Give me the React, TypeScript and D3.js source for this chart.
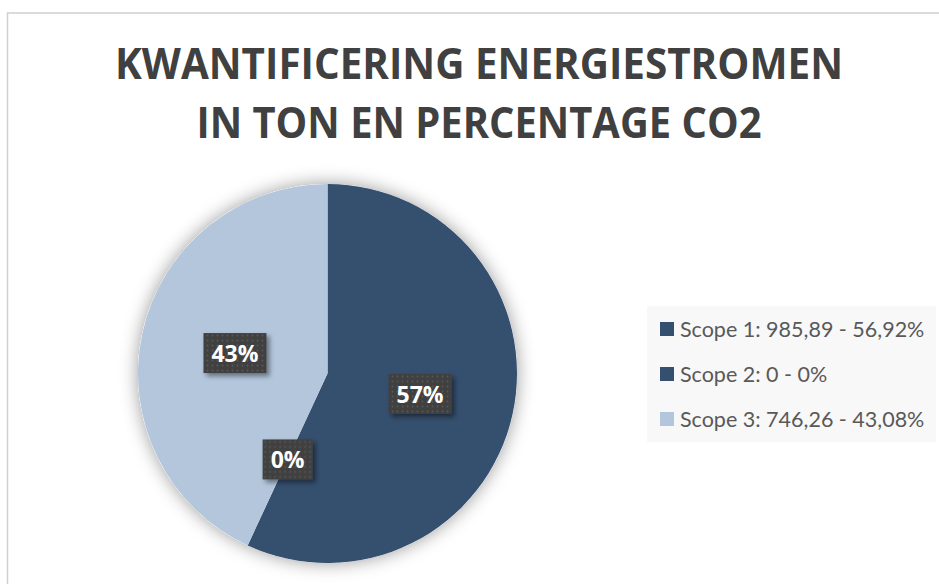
import React, { useEffect, useRef } from "react";
import * as d3 from "d3";

// chart data
const titleLines = ["KWANTIFICERING ENERGIESTROMEN", "IN TON EN PERCENTAGE CO2"];
const scopes = ["Scope 1", "Scope 2", "Scope 3"];
const tons = [985.89, 0, 746.26];
const shares = [56.92, 0, 43.08];
const colors = ["#354f6e", "#354f6e", "#b3c6dc"];

const W = 939;
const H = 584;

export default function App() {
  const ref = useRef<SVGSVGElement | null>(null);

  useEffect(() => {
    const svg = d3.select(ref.current);
    svg.selectAll("*").remove();

    const defs = svg.append("defs");

    // soft glow round the pie
    const pieShadow = defs.append("filter").attr("id", "pieShadow")
      .attr("x", "-30%").attr("y", "-30%").attr("width", "160%").attr("height", "160%");
    pieShadow.append("feDropShadow")
      .attr("dx", 0).attr("dy", 0).attr("stdDeviation", 9)
      .attr("flood-color", "#000").attr("flood-opacity", 0.4);

    const boxShadow = defs.append("filter").attr("id", "boxShadow")
      .attr("x", "-30%").attr("y", "-30%").attr("width", "160%").attr("height", "160%");
    boxShadow.append("feDropShadow")
      .attr("dx", 3).attr("dy", 3).attr("stdDeviation", 2.5)
      .attr("flood-color", "#000").attr("flood-opacity", 0.45);

    // dotted fill of the data labels
    const pat = defs.append("pattern").attr("id", "dots")
      .attr("patternUnits", "userSpaceOnUse").attr("width", 5).attr("height", 5);
    pat.append("rect").attr("width", 5).attr("height", 5).attr("fill", "#404040");
    pat.append("circle").attr("cx", 2.5).attr("cy", 2.5).attr("r", 0.9).attr("fill", "#595959");

    svg.append("rect").attr("width", W).attr("height", H).attr("fill", "#fff");

    // chart border (right and bottom fall outside the crop)
    svg.append("rect")
      .attr("x", 7.5).attr("y", 13).attr("width", 960).attr("height", 600)
      .attr("fill", "#fff").attr("stroke", "#d0d0d0").attr("stroke-width", 1.5);

    // title
    const titleLen = [728, 565];
    svg.append("g").selectAll("text")
      .data(titleLines)
      .enter()
      .append("text")
      .attr("x", 479)
      .attr("y", (d, i) => 79 + i * 59)
      .attr("text-anchor", "middle")
      .attr("font-family", "'Open Sans', Lato, sans-serif")
      .attr("font-weight", "bold")
      .attr("font-size", 43)
      .attr("fill", "#404040")
      .attr("textLength", (d, i) => titleLen[i])
      .attr("lengthAdjust", "spacingAndGlyphs")
      .text(d => d);

    // pie
    const cx = 327.5, cy = 373.5, r = 189.5;
    const pie = d3.pie<number>().sort(null).value(d => d);
    const arcs = pie(tons);
    const arc = d3.arc<d3.PieArcDatum<number>>().innerRadius(0).outerRadius(r);
    const labelArc = d3.arc<d3.PieArcDatum<number>>().innerRadius(r * 0.5).outerRadius(r * 0.5);

    const g = svg.append("g").attr("transform", `translate(${cx},${cy})`);
    g.append("circle").attr("r", r).attr("fill", "#fff").attr("filter", "url(#pieShadow)");
    g.selectAll("path.slice")
      .data(arcs)
      .enter()
      .append("path")
      .attr("class", "slice")
      .attr("d", arc)
      .attr("fill", (d, i) => colors[i]);

    // data labels
    const pct = (v: number) => d3.format(".0f")(v) + "%";
    const labels = g.selectAll("g.lab")
      .data(arcs)
      .enter()
      .append("g")
      .attr("class", "lab")
      .attr("transform", d => {
        const [x, y] = labelArc.centroid(d);
        return `translate(${x},${y})`;
      });
    labels.append("rect")
      .attr("x", (d, i) => -(24 + 13 * pct(shares[i]).length) / 2)
      .attr("y", -20)
      .attr("width", (d, i) => 24 + 13 * pct(shares[i]).length)
      .attr("height", 40)
      .attr("fill", "url(#dots)")
      .attr("filter", "url(#boxShadow)");
    labels.append("text")
      .attr("text-anchor", "middle")
      .attr("y", 9)
      .attr("font-family", "'Open Sans', Lato, sans-serif")
      .attr("font-weight", "bold")
      .attr("font-size", 23)
      .attr("fill", "#fff")
      .text((d, i) => pct(shares[i]));

    // legend
    const fmt = (v: number) => String(v).replace(".", ",");
    svg.append("rect")
      .attr("x", 647).attr("y", 306).attr("width", 289).attr("height", 136)
      .attr("fill", "#f8f8f8");
    const leg = svg.append("g").selectAll("g")
      .data(scopes)
      .enter()
      .append("g")
      .attr("transform", (d, i) => `translate(660,${322 + i * 45})`);
    leg.append("rect")
      .attr("width", 14).attr("height", 14)
      .attr("fill", (d, i) => colors[i]);
    leg.append("text")
      .attr("x", 20)
      .attr("y", 15)
      .attr("font-family", "Lato, 'Open Sans', sans-serif")
      .attr("font-size", 21.5)
      .attr("fill", "#595959")
      .text((d, i) => `${d}: ${fmt(tons[i])} - ${fmt(shares[i])}%`);
  }, []);

  return (
    <svg ref={ref} width={W} height={H}
      style={{ position: "absolute", left: 0, top: 0, display: "block" }} />
  );
}
